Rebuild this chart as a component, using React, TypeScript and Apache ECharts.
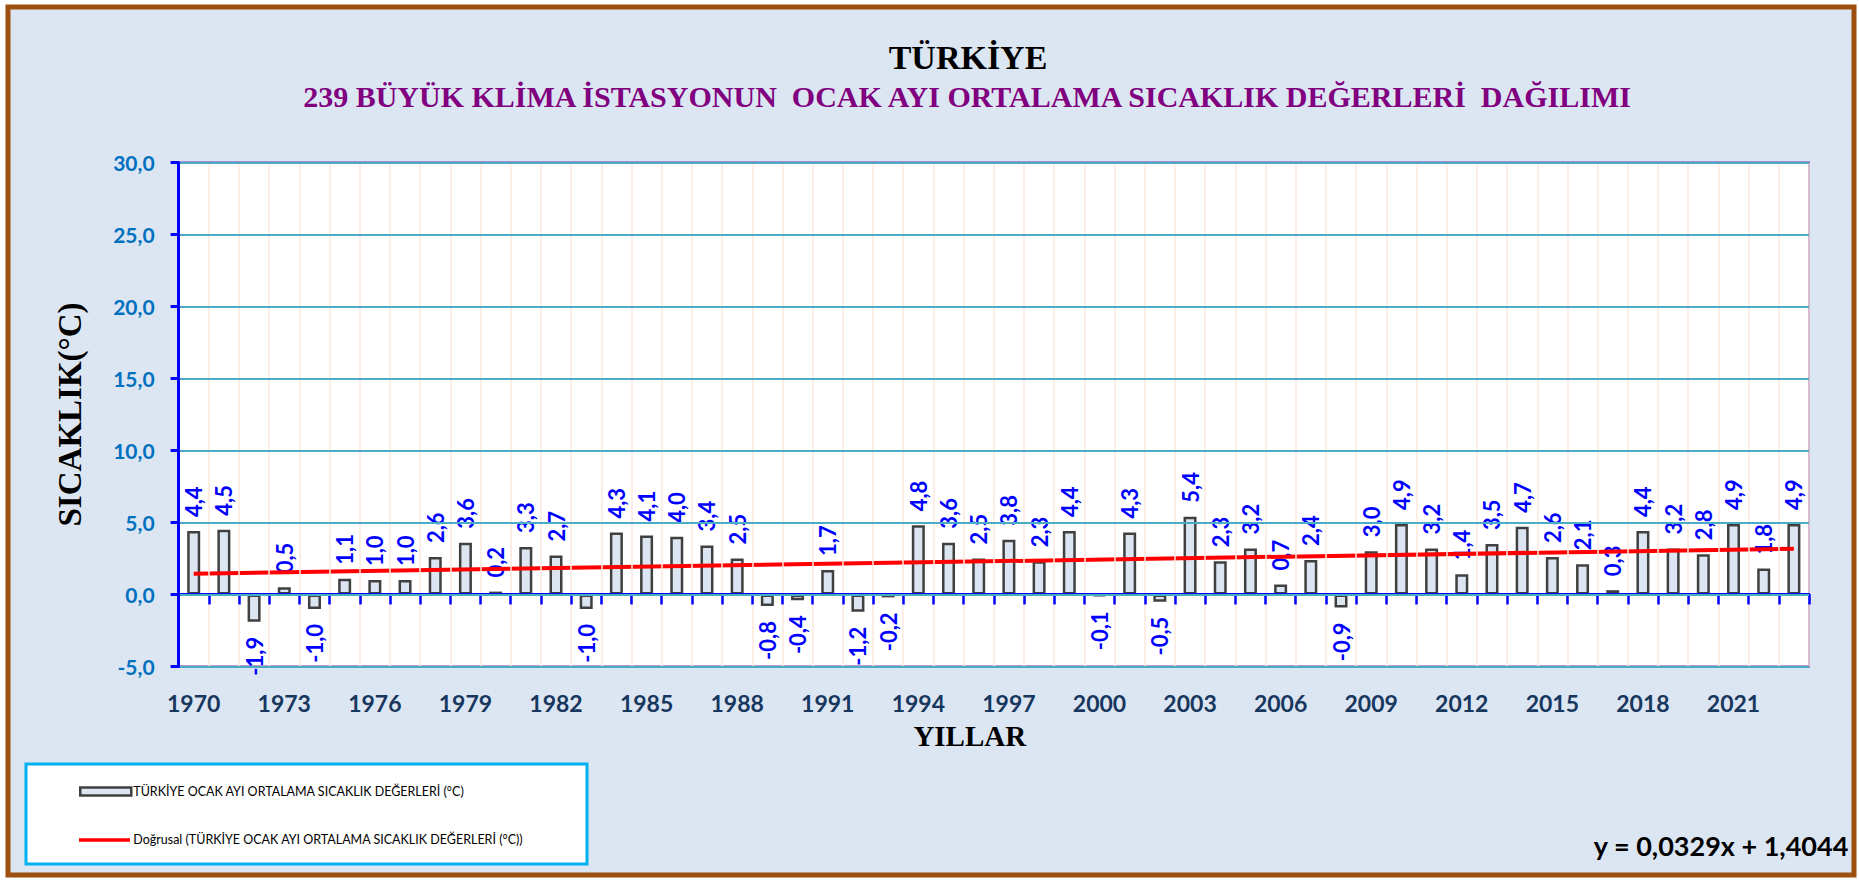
import React, { useEffect, useRef } from "react";
import * as echarts from "echarts";

const YEARS: string[] = [
  "1970","1971","1972","1973","1974","1975","1976","1977","1978","1979",
  "1980","1981","1982","1983","1984","1985","1986","1987","1988","1989",
  "1990","1991","1992","1993","1994","1995","1996","1997","1998","1999",
  "2000","2001","2002","2003","2004","2005","2006","2007","2008","2009",
  "2010","2011","2012","2013","2014","2015","2016","2017","2018","2019",
  "2020","2021","2022","2023",
];

const TEMPS: number[] = [
  4.4, 4.5, -1.9, 0.5, -1.0, 1.1, 1.0, 1.0, 2.6, 3.6,
  0.2, 3.3, 2.7, -1.0, 4.3, 4.1, 4.0, 3.4, 2.5, -0.8,
  -0.4, 1.7, -1.2, -0.2, 4.8, 3.6, 2.5, 3.8, 2.3, 4.4,
  -0.1, 4.3, -0.5, 5.4, 2.3, 3.2, 0.7, 2.4, -0.9, 3.0,
  4.9, 3.2, 1.4, 3.5, 4.7, 2.6, 2.1, 0.3, 4.4, 3.2,
  2.8, 4.9, 1.8, 4.9,
];

// Trend line as printed on the chart: y = 0,0329x + 1,4044 (x = 1..n)
const TREND_SLOPE = 0.0329;
const TREND_INTERCEPT = 1.4044;

const Y_TICKS: number[] = [-5, 0, 5, 10, 15, 20, 25, 30];

const SERIES_NAME = "TÜRKİYE OCAK AYI ORTALAMA SICAKLIK DEĞERLERİ (°C)";
const TREND_NAME = "Doğrusal (TÜRKİYE OCAK AYI ORTALAMA SICAKLIK DEĞERLERİ (°C))";

const fmt = (v: number) => v.toFixed(1).replace(".", ",");

export default function App() {
  const ref = useRef<HTMLDivElement>(null);

  useEffect(() => {
    if (!ref.current) return;
    const chart = echarts.init(ref.current, undefined, { renderer: "svg" });

    const n = TEMPS.length;
    const trendData: (number | null)[] = TEMPS.map((_, i) =>
      i === 0 || i === n - 1 ? +(TREND_SLOPE * (i + 1) + TREND_INTERCEPT).toFixed(4) : null
    );

    const barData = TEMPS.map((v) => ({
      value: v,
      label: {
        position: v >= 0 ? "top" : "bottom",
        align: v >= 0 ? "left" : "right",
        verticalAlign: "middle",
        distance: v >= 0 ? 14 : 15,
      },
    }));

    const option: any = {
      animation: false,
      backgroundColor: "#ffffff",
      title: [
        {
          text: "TÜRKİYE",
          left: 963,
          top: 35,
          textAlign: "center",
          textStyle: {
            fontFamily: "Liberation Serif",
            fontWeight: "bold",
            fontSize: 34,
            color: "#000000",
          },
        },
        {
          text: "239 BÜYÜK KLİMA İSTASYONUN  OCAK AYI ORTALAMA SICAKLIK DEĞERLERİ  DAĞILIMI",
          left: 962,
          top: 76,
          textAlign: "center",
          textStyle: {
            fontFamily: "Liberation Serif",
            fontWeight: "bold",
            fontSize: 30,
            color: "#800080",
          },
        },
      ],
      graphic: [
        {
          type: "rect",
          z: -10,
          shape: { x: 8, y: 7, width: 1846, height: 868 },
          style: { fill: "#dce6f2", stroke: "#9c4f0e", lineWidth: 5 },
          silent: true,
        },
        {
          type: "rect",
          z: 0,
          shape: { x: 26, y: 764, width: 561, height: 100 },
          style: { fill: "#ffffff", stroke: "#00b0f0", lineWidth: 3 },
          silent: true,
        },
        {
          type: "line",
          z: 10,
          shape: { x1: 79, y1: 840, x2: 130, y2: 840 },
          style: { stroke: "#ff0000", lineWidth: 3.5 },
          silent: true,
        },
        {
          type: "text",
          right: 10,
          top: 832,
          z: 10,
          style: {
            text: "y = 0,0329x + 1,4044",
            fontFamily: "Lato",
            fontWeight: "bold",
            fontSize: 27,
            fill: "#000000",
          },
        },
      ],
      legend: {
        orient: "vertical",
        left: 79,
        top: 785,
        padding: 0,
        z: 10,
        itemGap: 35,
        itemWidth: 51,
        itemHeight: 8,
        textStyle: {
          fontFamily: "Lato",
          fontSize: 12.5,
          color: "#000000",
          padding: [0, 0, 0, -3],
        },
        data: [
          {
            name: SERIES_NAME,
            icon: "rect",
            itemStyle: { color: "#dce6f2", borderColor: "#404040", borderWidth: 2.5 },
          },
          { name: TREND_NAME, icon: "none" },
        ],
      },
      grid: {
        left: 178.6,
        right: 50,
        top: 162.4,
        bottom: 214.5,
        show: true,
        backgroundColor: "#ffffff",
        borderColor: "#7030a0",
        borderWidth: 2,
      },
      xAxis: [
        {
          type: "category",
          data: YEARS,
          position: "bottom",
          axisLine: { show: true, onZero: true, lineStyle: { color: "#0000ff", width: 3 } },
          axisTick: { show: true, interval: 0, length: 10, lineStyle: { color: "#0000ff", width: 2.5 } },
          axisLabel: { show: false },
          splitLine: { show: true, interval: 0, lineStyle: { color: "#fde9dc", width: 1.5 } },
          z: 5,
        },
        {
          type: "category",
          data: YEARS,
          position: "bottom",
          axisLine: { show: false, onZero: false },
          axisTick: { show: false },
          splitLine: { show: false },
          axisLabel: {
            interval: 2,
            margin: 25,
            color: "#17375e",
            fontFamily: "Lato",
            fontWeight: "bold",
            fontSize: 23,
          },
          name: "YILLAR",
          nameLocation: "middle",
          nameGap: 55,
          nameTextStyle: {
            fontFamily: "Liberation Serif",
            fontWeight: "bold",
            fontSize: 29,
            color: "#000000",
            padding: [0, 48, 0, 0],
          },
        },
      ],
      yAxis: {
        type: "value",
        min: Y_TICKS[0],
        max: Y_TICKS[Y_TICKS.length - 1],
        interval: 5,
        axisLine: { show: true, lineStyle: { color: "#0000ff", width: 3 } },
        axisTick: { show: true, length: 8, lineStyle: { color: "#0000ff", width: 3 } },
        axisLabel: {
          margin: 24,
          color: "#0070c0",
          fontFamily: "Lato",
          fontWeight: "bold",
          fontSize: 21,
          formatter: (v: number) => fmt(v),
        },
        splitLine: { show: true, lineStyle: { color: "#4bacc6", width: 2 } },
        name: "SICAKLIK(°C)",
        nameLocation: "middle",
        nameRotate: 90,
        nameGap: 92,
        nameTextStyle: {
          fontFamily: "Liberation Serif",
          fontWeight: "bold",
          fontSize: 33,
          color: "#000000",
        },
        z: 6,
      },
      series: [
        {
          name: SERIES_NAME,
          type: "bar",
          xAxisIndex: 0,
          data: barData,
          barWidth: 13,
          itemStyle: { color: "#dce6f2", borderColor: "#404040", borderWidth: 2.5 },
          label: {
            show: true,
            rotate: 90,
            color: "#0000ff",
            fontFamily: "Lato",
            fontWeight: "bold",
            fontSize: 22,
            formatter: (p: any) => fmt(p.value),
          },
          z: 3,
        },
        {
          name: TREND_NAME,
          type: "line",
          xAxisIndex: 0,
          data: trendData,
          connectNulls: true,
          symbol: "none",
          showSymbol: false,
          lineStyle: { color: "#ff0000", width: 4 },
          itemStyle: { color: "#ff0000" },
          z: 4,
        },
      ],
    };

    chart.setOption(option);
    return () => chart.dispose();
  }, []);

  return (
    <div
      ref={ref}
      style={{ position: "fixed", left: 0, top: 0, width: 1859, height: 881 }}
    />
  );
}
